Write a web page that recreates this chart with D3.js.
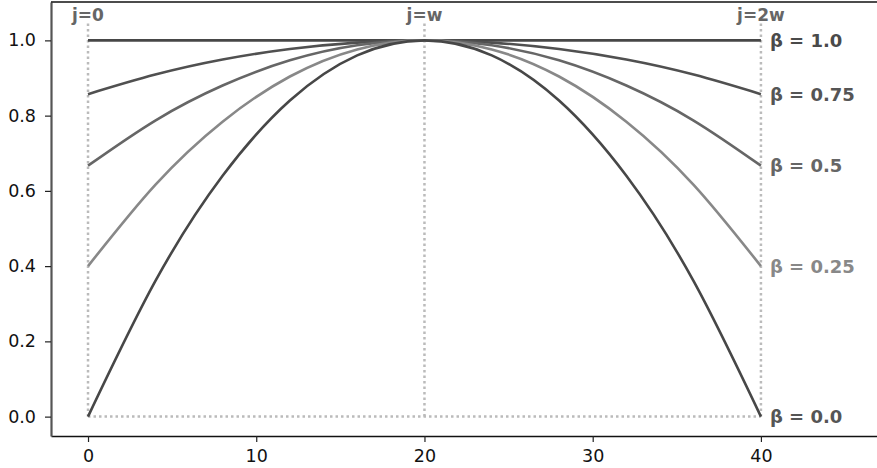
<!DOCTYPE html>
<html lang="en">
  <head>
    <meta charset="UTF-8" />
    <title>Window curves</title>
    <script src="https://cdn.jsdelivr.net/npm/d3@7"></script>
    <style>
      body { margin: 0; background: #fff; }
      text { font-family: 'DejaVu Sans', sans-serif; }
    </style>
  </head>
  <body>
    <svg width="877" height="468"></svg>
    <script>
      // sampled j positions (w = 20)
      var js = [0, 4, 8, 12, 16, 20, 24, 28, 32, 36, 40]
      var betas = ['1.0', '0.75', '0.5', '0.25', '0.0']
      var vals10 = [1, 1, 1, 1, 1, 1, 1, 1, 1, 1, 1]
      var vals075 = [0.857, 0.909, 0.949, 0.977, 0.994, 1, 0.994, 0.977, 0.949, 0.909, 0.857]
      var vals05 = [0.667, 0.787, 0.88, 0.947, 0.987, 1, 0.987, 0.947, 0.88, 0.787, 0.667]
      var vals025 = [0.4, 0.616, 0.784, 0.904, 0.976, 1, 0.976, 0.904, 0.784, 0.616, 0.4]
      var vals00 = [0, 0.36, 0.64, 0.84, 0.96, 1, 0.96, 0.84, 0.64, 0.36, 0]
      var xTicks = [0, 10, 20, 30, 40]
      var yTicks = [0, 0.2, 0.4, 0.6, 0.8, 1.0]
      var markers = [{ j: 0, label: 'j=0' }, { j: 20, label: 'j=w' }, { j: 40, label: 'j=2w' }]

      var series = [vals10, vals075, vals05, vals025, vals00]
      var colors = ['#474747', '#505050', '#666666', '#888888', '#474747']
      var labelColors = ['#4a4a4a', '#555555', '#666666', '#888888', '#555555']

      var svg = d3.select('svg')
      var m = { left: 51, right: 877, top: 2, bottom: 436 }

      var x = d3.scaleLinear().domain([-2.2, 46.9]).range([m.left, m.right])
      var y = d3.scaleLinear().domain([-0.0515, 1.102]).range([m.bottom, m.top])

      // guide lines
      var dot = { stroke: '#bbbbbb', width: 2.5, dash: '2.5,3' }
      markers.forEach(function(mk) {
        svg.append('line')
          .attr('x1', x(mk.j)).attr('x2', x(mk.j))
          .attr('y1', y(0)).attr('y2', y(1.047))
          .attr('stroke', dot.stroke)
          .attr('stroke-width', dot.width)
          .attr('stroke-dasharray', dot.dash)
        svg.append('text')
          .attr('x', x(mk.j)).attr('y', 21)
          .attr('text-anchor', 'middle')
          .attr('font-size', 17)
          .attr('font-weight', 'bold')
          .attr('fill', '#666')
          .text(mk.label)
      })
      svg.append('line')
        .attr('x1', x(0)).attr('x2', x(40))
        .attr('y1', y(0)).attr('y2', y(0))
        .attr('stroke', dot.stroke)
        .attr('stroke-width', dot.width)
        .attr('stroke-dasharray', dot.dash)

      // curves
      var line = d3.line()
        .x(function(d, i) { return x(js[i]) })
        .y(function(d) { return y(d) })
        .curve(d3.curveNatural)

      series.forEach(function(s, k) {
        svg.append('path')
          .attr('d', line(s))
          .attr('fill', 'none')
          .attr('stroke', colors[k])
          .attr('stroke-width', 2.6)
        svg.append('text')
          .attr('x', x(40) + 9)
          .attr('y', y(s[s.length - 1]))
          .attr('dy', '0.36em')
          .attr('font-size', 18)
          .attr('font-weight', 'bold')
          .attr('fill', labelColors[k])
          .text('β = ' + betas[k])
      })

      // axes
      var xAxis = svg.append('g')
        .attr('transform', `translate(0,${m.bottom})`)
        .call(d3.axisBottom(x).tickValues(xTicks).tickSize(6).tickSizeOuter(0).tickPadding(8).tickFormat(d3.format('d')))
      var yAxis = svg.append('g')
        .attr('transform', `translate(${m.left},0)`)
        .call(d3.axisLeft(y).tickValues(yTicks).tickSize(6).tickSizeOuter(0).tickPadding(9).tickFormat(d3.format('.1f')))
      ;[xAxis, yAxis].forEach(function(a) {
        a.selectAll('text').attr('font-size', 17.5).attr('font-family', 'DejaVu Sans').attr('fill', '#111')
        a.selectAll('.tick line').attr('stroke', '#222').attr('stroke-width', 1.2)
      })
      xAxis.select('.domain').attr('stroke', '#111').attr('stroke-width', 1.5)
      yAxis.select('.domain').attr('stroke', '#555').attr('stroke-width', 2.2)

      svg.append('line')
        .attr('x1', m.left).attr('x2', m.right)
        .attr('y1', m.top).attr('y2', m.top)
        .attr('stroke', '#111').attr('stroke-width', 1.5)
    </script>
  </body>
</html>
